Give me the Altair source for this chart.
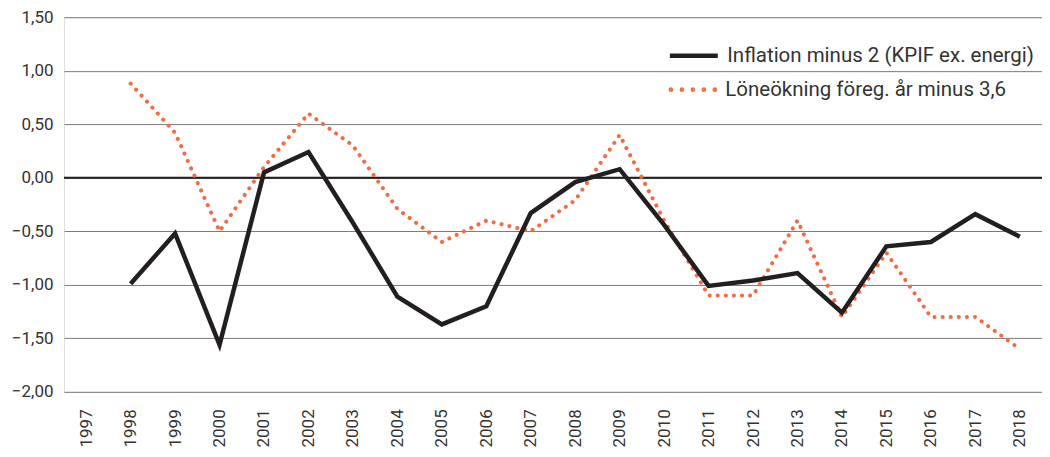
import altair as alt
import pandas as pd

years = [str(y) for y in range(1997, 2019)]
data_years = [str(y) for y in range(1998, 2019)]
inflation = [-0.99, -0.52, -1.56, 0.05, 0.24, -0.42, -1.11, -1.37, -1.20, -0.33,
             -0.04, 0.08, -0.44, -1.01, -0.96, -0.89, -1.26, -0.64, -0.60, -0.34, -0.55]
wages = [0.88, 0.42, -0.50, 0.10, 0.60, 0.30, -0.29, -0.60, -0.40, -0.50,
         -0.21, 0.40, -0.40, -1.10, -1.10, -0.40, -1.30, -0.70, -1.30, -1.30, -1.60]
series_names = ["Inflation minus 2 (KPIF ex. energi)", "Löneökning föreg. år minus 3,6"]
y_ticks = [-2.0, -1.5, -1.0, -0.5, 0.0, 0.5, 1.0, 1.5]

df_inf = pd.DataFrame({"year": data_years, "value": inflation, "series": series_names[0]})
df_wag = pd.DataFrame({"year": data_years, "value": wages, "series": series_names[1]})

FONT = "Roboto"
TEXT = "#333333"
BLACK = "#231f20"
ORANGE = "#f26b43"

# legend symbol: a row of small dots (custom path over the unit square)
r = 0.042
dot_path = "".join(
    f"M{cx - r:.3f},0a{r},{r} 0 1,0 {2 * r},0a{r},{r} 0 1,0 {-2 * r},0Z"
    for cx in [-0.917, -0.458, 0.0, 0.458, 0.917]
)

x = alt.X("year:O", scale=alt.Scale(domain=years, paddingInner=1, paddingOuter=0.5),
          axis=alt.Axis(title=None, labelAngle=-90, labelFontSize=17, labelColor=TEXT,
                        labelFont=FONT, ticks=False, domain=False, labelPadding=17,
                        labelBaseline="middle"))
y = alt.Y("value:Q", scale=alt.Scale(domain=[-2, 1.5], nice=False),
          axis=alt.Axis(title=None, values=y_ticks, grid=True, gridColor="#7a7a7a",
                        gridWidth=1, ticks=False, domain=False, labelFontSize=17,
                        labelColor=TEXT, labelFont=FONT, labelPadding=11,
                        labelExpr="replace(format(datum.value, '.2f'), '.', ',')"))

common_legend = dict(title=None, orient="none", legendX=604, labelFont=FONT,
                     labelFontSize=20.5, labelColor=TEXT, symbolSize=2300, labelOffset=7,
                     labelLimit=500)

line_inf = alt.Chart(df_inf).mark_line(strokeWidth=4.5, strokeJoin="miter").encode(
    x=x, y=y,
    color=alt.Color("series:N", scale=alt.Scale(domain=[series_names[0]], range=[BLACK]),
                    legend=alt.Legend(legendY=12, symbolType="stroke",
                                      symbolStrokeWidth=4.5, **common_legend)),
)

line_wag = alt.Chart(df_wag).mark_line(strokeWidth=4, strokeCap="round",
                                       strokeDash=[0.1, 8]).encode(
    x=x, y=y,
    color=alt.Color("series:N", scale=alt.Scale(domain=[series_names[1]], range=[ORANGE]),
                    legend=alt.Legend(legendY=47, symbolType=dot_path,
                                      symbolStrokeWidth=2.6, **common_legend)),
)

zero = alt.Chart(pd.DataFrame({"v": [0]})).mark_rule(color=BLACK, strokeWidth=2).encode(
    y=alt.Y("v:Q", scale=alt.Scale(domain=[-2, 1.5], nice=False))
)

chart = alt.layer(zero, line_wag, line_inf).resolve_scale(
    color="independent"
).resolve_legend(color="independent").properties(
    width=979, height=375,
    autosize=alt.AutoSizeParams(type="none"),
    padding={"left": 56, "top": 9, "right": 0, "bottom": 60},
).configure_view(stroke=None).configure(background="white")

chart.save("out.html", embed_options={"renderer": "svg", "actions": False})
